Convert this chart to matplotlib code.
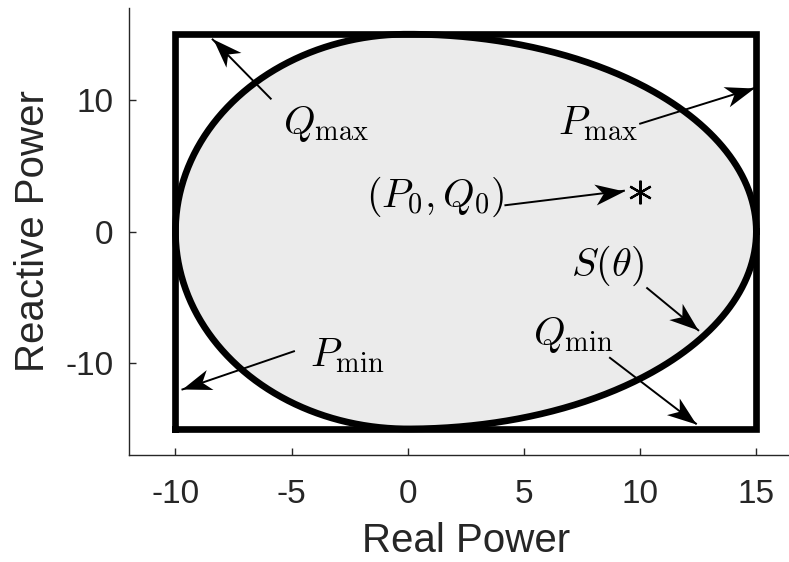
import numpy as np
import matplotlib
matplotlib.use("Agg")
import matplotlib.pyplot as plt
from matplotlib.markers import MarkerStyle
from matplotlib.path import Path
from matplotlib.transforms import Affine2D

# operating region limits
P_MIN, P_MAX = -10, 15
Q_MIN, Q_MAX = -15, 15
P0, Q0 = 10, 3

# annotations: label, text position, arrow tail, arrow head (data units)
LABELS = [r"$Q_{\max}$", r"$P_{\max}$", r"$(P_0, Q_0)$", r"$S(\theta)$", r"$Q_{\min}$", r"$P_{\min}$"]
TEXT_XY = [(-3.5, 8.2), (8.2, 8.2), (1.2, 2.6), (8.6, -2.6), (7.1, -7.9), (-2.6, -9.4)]
TAIL_XY = [(-5.9, 10.1), (10.0, 8.2), (4.2, 2.0), (10.3, -4.3), (8.7, -9.6), (-4.9, -9.1)]
HEAD_XY = [(-8.4, 14.6), (14.9, 10.9), (9.3, 3.1), (12.5, -7.5), (12.4, -14.6), (-9.7, -12.0)]

plt.rcParams["font.family"] = ["Liberation Sans", "DejaVu Sans"]
plt.rcParams["mathtext.fontset"] = "cm"
plt.rcParams["axes.unicode_minus"] = False

fig = plt.figure(figsize=(7.89, 5.62), dpi=100)
# axes runs past the right edge of the figure, as in the original export
ax = fig.add_axes([0.1635, 0.19, 0.854, 0.796])
ax.set_xlim(-12, 17)
ax.set_ylim(-17, 17)

# ellipse with different semi-axes on each side of P=0
t = np.linspace(0, 2 * np.pi, 721)
px = np.where(np.cos(t) >= 0, P_MAX * np.cos(t), -P_MIN * np.cos(t))
qy = Q_MAX * np.sin(t)
ax.fill(px, qy, color="#ebebeb", zorder=1)
ax.plot([P_MIN, P_MAX, P_MAX, P_MIN, P_MIN], [Q_MIN, Q_MIN, Q_MAX, Q_MAX, Q_MIN],
        color="black", lw=4.8, solid_joinstyle="miter", zorder=2)
ax.plot(px, qy, color="black", lw=4.8, zorder=3)
ax.plot([P0], [Q0], marker=(6, 2, 0), color="black", markersize=17, mew=1.6, zorder=4)

# matlab-like arrow head with a notched back
head_path = Path([(0, 0), (-1, 0.36), (-0.72, 0), (-1, -0.36), (0, 0)],
                 [Path.MOVETO, Path.LINETO, Path.LINETO, Path.LINETO, Path.CLOSEPOLY])

for label, txy, tail, head in zip(LABELS, TEXT_XY, TAIL_XY, HEAD_XY):
    ax.text(txy[0], txy[1], label, fontsize=29, ha="center", va="center", zorder=5)
    ax.plot([tail[0], head[0]], [tail[1], head[1]], color="black", lw=1.4, zorder=5)
    d = ax.transData.transform(head) - ax.transData.transform(tail)
    angle = np.arctan2(d[1], d[0])
    m = MarkerStyle(head_path, transform=Affine2D().rotate(angle))
    ax.plot([head[0]], [head[1]], marker=m, markersize=42, color="black", mew=0, zorder=6)

ax.set_xticks([-10, -5, 0, 5, 10, 15])
ax.set_yticks([-10, 0, 10])
ax.tick_params(direction="in", length=5, width=1, colors="#262626", labelsize=24)
ax.tick_params(axis="x", pad=17)
ax.tick_params(axis="y", pad=11)
for side in ["top", "right"]:
    ax.spines[side].set_visible(False)
for side in ["left", "bottom"]:
    ax.spines[side].set_color("#262626")
    ax.spines[side].set_linewidth(1)
ax.set_xlabel("Real Power", fontsize=29, color="#262626", labelpad=9)
ax.set_ylabel("Reactive Power", fontsize=29, color="#262626", labelpad=10)

fig.savefig("out.png", dpi=100)
